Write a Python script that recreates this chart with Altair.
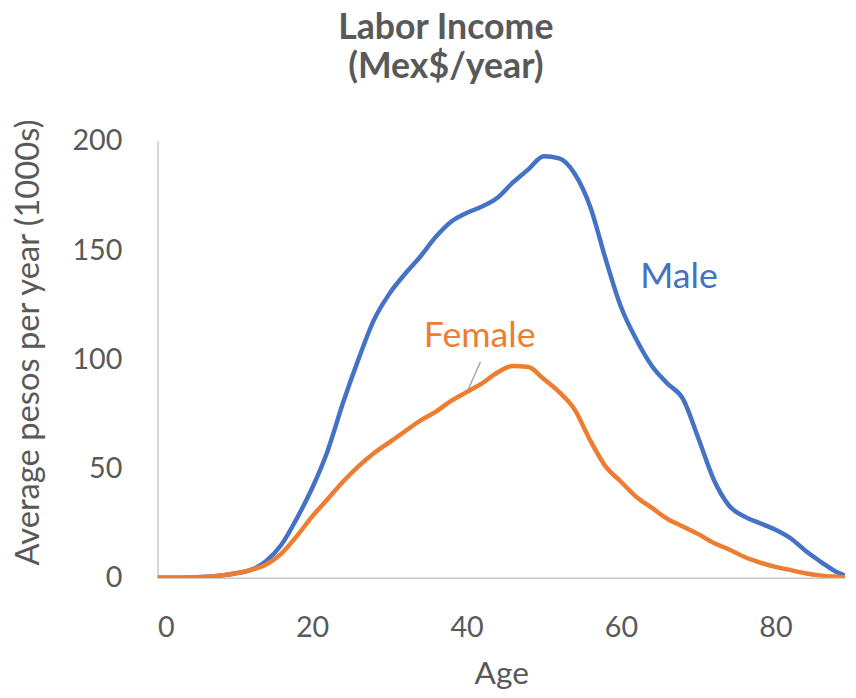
import altair as alt
import pandas as pd

ages = [0, 5, 8, 10, 12, 14, 16, 18, 20, 22, 24, 26, 28, 30, 32, 34, 36, 38, 40,
        42, 44, 46, 48, 50, 52, 54, 56, 58, 60, 62, 64, 66, 68, 70, 72, 74, 76,
        78, 80, 82, 84, 86, 88, 89]
male = [0, 0.3, 1, 2, 3.5, 7.5, 15, 27, 41, 58, 80, 100, 118, 130, 139, 147, 156,
        163, 167, 170, 174, 181, 187, 193, 192, 185, 170, 146, 124, 109, 97, 89,
        82, 64, 45, 33, 28, 25, 22, 18, 12, 7, 2.5, 1]
female = [0, 0.3, 1, 2, 3.5, 6, 11, 19, 28, 36, 44, 51, 57, 62, 67, 72, 76, 81, 85,
          89, 94, 97, 96.5, 91, 85, 77, 63, 51, 44, 37, 32, 27, 23.5, 20, 16, 13,
          9.5, 7, 5, 3.5, 2, 1, 0.5, 0.3]
series_names = ["Male", "Female"]
colors = ["#4472C4", "#ED7D31"]

rows = []
for a, m, f in zip(ages, male, female):
    rows.append({"Age": a, "Value": m, "Series": "Male"})
    rows.append({"Age": a, "Value": f, "Series": "Female"})
df = pd.DataFrame(rows)

labels = pd.DataFrame({
    "Series": ["Male", "Female"],
    "Age": [67.5, 41.7],
    "Value": [132.9, 105.7],
})
leader = pd.DataFrame({"Age": [40.1], "Age2": [41.8], "Value": [85.3], "Value2": [98.9]})

FONT = "Lato"
GREY = "#595959"

x_scale = alt.Scale(domain=[0, 89], nice=False, zero=False)
y_scale = alt.Scale(domain=[0, 200], nice=False)
color_scale = alt.Scale(domain=series_names, range=colors)

lines = alt.Chart(df).mark_line(strokeWidth=4.5, interpolate="monotone", clip=True).encode(
    x=alt.X("Age:Q", scale=x_scale,
            axis=alt.Axis(values=[0, 20, 40, 60, 80], title="Age", grid=False, ticks=False,
                          domainColor="#C8C8C8", domainWidth=1.5,
                          labelFontSize=29, labelColor=GREY, labelFont=FONT, labelPadding=36,
                          titleFontSize=32, titleColor=GREY, titleFont=FONT, titleFontWeight="normal",
                          titleY=107, titleBaseline="alphabetic")),
    y=alt.Y("Value:Q", scale=y_scale,
            axis=alt.Axis(values=[0, 50, 100, 150, 200], title="Average pesos per year (1000s)",
                          grid=False, ticks=False, domainColor="#C8C8C8", domainWidth=1.5,
                          labelFontSize=29, labelColor=GREY, labelFont=FONT, labelPadding=36,
                          titleFontSize=33, titleColor=GREY, titleFont=FONT, titleFontWeight="normal",
                          titleX=-120, titleY=203, titleAngle=-90, titleAlign="center",
                          titleBaseline="alphabetic")),
    color=alt.Color("Series:N", scale=color_scale, legend=None),
    detail="Series:N",
)

text = alt.Chart(labels).mark_text(fontSize=36, font=FONT, align="center", baseline="alphabetic").encode(
    x=alt.X("Age:Q", scale=x_scale),
    y=alt.Y("Value:Q", scale=y_scale),
    text="Series:N",
    color=alt.Color("Series:N", scale=color_scale, legend=None),
)

lead = alt.Chart(leader).mark_rule(color="#A6A6A6", strokeWidth=1.5).encode(
    x=alt.X("Age:Q", scale=x_scale),
    x2="Age2:Q",
    y=alt.Y("Value:Q", scale=y_scale),
    y2="Value2:Q",
)

chart = alt.layer(lead, lines, text).properties(
    width=694,
    height=441,
    autosize=alt.AutoSizeParams(type="none"),
    padding={"left": 151, "top": 131, "right": 3, "bottom": 110},
    title=alt.TitleParams(
        text=["Labor Income", "(Mex$/year)"],
        font=FONT, fontSize=36, fontWeight="bold", color=GREY,
        anchor="middle", dx=-56, offset=32, lineHeight=40,
    ),
).configure_view(stroke=None)

chart.save("out.html", embed_options={"renderer": "svg", "actions": False})
